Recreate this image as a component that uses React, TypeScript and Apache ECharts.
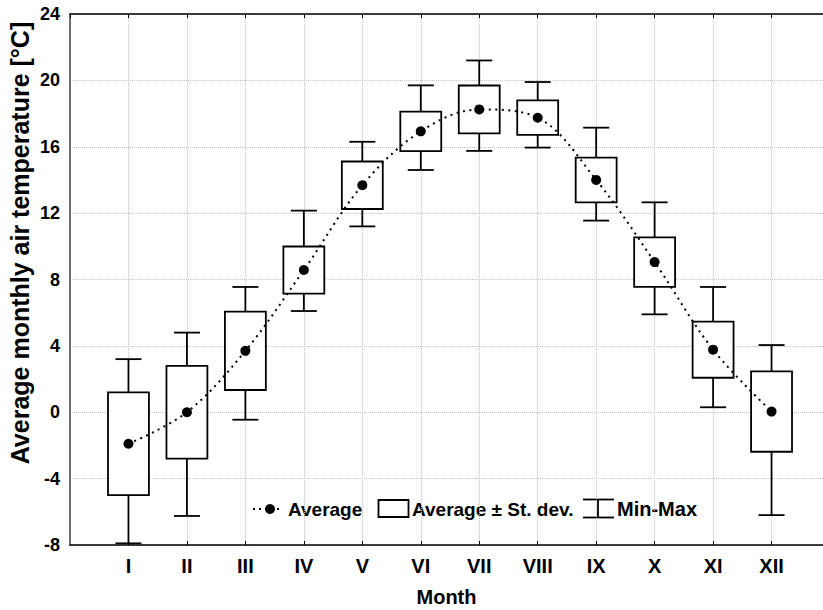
import React, { useEffect, useRef } from "react";
import * as echarts from "echarts";

const months = ["I", "II", "III", "IV", "V", "VI", "VII", "VIII", "IX", "X", "XI", "XII"];
const avgValues = [-1.9, 0.0, 3.7, 8.57, 13.68, 16.93, 18.25, 17.75, 14.0, 9.05, 3.77, 0.04];
const sdValues = [3.1, 2.8, 2.36, 1.42, 1.43, 1.19, 1.44, 1.04, 1.35, 1.49, 1.69, 2.42];
const minValues = [-7.9, -6.25, -0.45, 6.1, 11.2, 14.6, 15.75, 15.95, 11.55, 5.9, 0.3, -6.2];
const maxValues = [3.2, 4.8, 7.55, 12.15, 16.3, 19.7, 21.2, 19.9, 17.15, 12.65, 7.55, 4.05];
const yTicks = [-8, -4, 0, 4, 8, 12, 16, 20, 24];

const FONT = "'Liberation Sans', Arial, sans-serif";

export default function App() {
  const ref = useRef<HTMLDivElement>(null);

  useEffect(() => {
    if (!ref.current) return;
    const chart = echarts.init(ref.current, undefined, { renderer: "svg" });

    const boxData = months.map((_, i) => [
      i + 1,
      minValues[i],
      avgValues[i] - sdValues[i],
      avgValues[i] + sdValues[i],
      maxValues[i],
    ]);
    const meanData = months.map((_, i) => [i + 1, avgValues[i]]);

    const gridLine = { color: "#c4c4c4", type: "dotted" as const, width: 1 };

    const option: any = {
      animation: false,
      backgroundColor: "#ffffff",
      textStyle: { fontFamily: FONT },
      grid: { left: 70, right: 0, top: 14, bottom: 65, containLabel: false, outerBoundsMode: "none" },
      xAxis: [
        {
          type: "value",
          min: 0,
          max: 12.88,
          interval: 1,
          position: "bottom",
          axisLine: { show: true, onZero: false, lineStyle: { color: "#000", width: 1.5 } },
          axisTick: { show: true, inside: true, length: 4, lineStyle: { color: "#000", width: 1 } },
          axisLabel: {
            show: true,
            margin: 11,
            fontFamily: FONT,
            fontWeight: "bold",
            fontSize: 20,
            color: "#000",
            showMinLabel: false,
            formatter: (v: number) => (v >= 1 && v <= 12 ? months[Math.round(v) - 1] : ""),
          },
          splitLine: { show: true, lineStyle: gridLine },
          name: "Month",
          nameLocation: "middle",
          nameGap: 42,
          nameTextStyle: { fontFamily: FONT, fontWeight: "bold", fontSize: 20, color: "#000" },
        },
        {
          type: "value",
          min: 0,
          max: 12.88,
          interval: 1,
          position: "top",
          axisLine: { show: true, onZero: false, lineStyle: { color: "#000", width: 1.5 } },
          axisTick: { show: true, inside: true, length: 4, lineStyle: { color: "#000", width: 1 } },
          axisLabel: { show: false },
          splitLine: { show: false },
        },
      ],
      yAxis: {
        type: "value",
        min: yTicks[0],
        max: yTicks[yTicks.length - 1],
        interval: 4,
        axisLine: { show: true, onZero: false, lineStyle: { color: "#6e6e6e", width: 2 } },
        axisTick: { show: false },
        axisLabel: {
          margin: 10,
          fontFamily: FONT,
          fontWeight: "bold",
          fontSize: 18,
          color: "#000",
        },
        splitLine: { show: true, lineStyle: gridLine },
      },
      series: [
        {
          type: "custom",
          name: "Average ± St. dev.",
          xAxisIndex: 0,
          yAxisIndex: 0,
          data: boxData,
          encode: { x: 0, y: [1, 2, 3, 4] },
          z: 2,
          renderItem: (params: any, api: any) => {
            const x = api.value(0);
            const pLo = api.coord([x, api.value(1)]);
            const pQ1 = api.coord([x, api.value(2)]);
            const pQ3 = api.coord([x, api.value(3)]);
            const pHi = api.coord([x, api.value(4)]);
            const bw = api.size([0.7, 0])[0];
            const cw = api.size([0.445, 0])[0];
            const ls = { stroke: "#000", lineWidth: 1.8 };
            return {
              type: "group",
              children: [
                { type: "line", shape: { x1: pLo[0], y1: pLo[1], x2: pQ1[0], y2: pQ1[1] }, style: ls },
                { type: "line", shape: { x1: pHi[0], y1: pHi[1], x2: pQ3[0], y2: pQ3[1] }, style: ls },
                { type: "line", shape: { x1: pLo[0] - cw / 2, y1: pLo[1], x2: pLo[0] + cw / 2, y2: pLo[1] }, style: ls },
                { type: "line", shape: { x1: pHi[0] - cw / 2, y1: pHi[1], x2: pHi[0] + cw / 2, y2: pHi[1] }, style: ls },
                {
                  type: "rect",
                  shape: { x: pQ3[0] - bw / 2, y: pQ3[1], width: bw, height: pQ1[1] - pQ3[1] },
                  style: { fill: "#fff", stroke: "#000", lineWidth: 1.8 },
                },
              ],
            };
          },
        },
        {
          type: "line",
          name: "Average",
          data: meanData,
          smooth: 0.35,
          symbol: "circle",
          symbolSize: 10,
          z: 5,
          itemStyle: { color: "#000" },
          lineStyle: { color: "#000", width: 2, type: [2, 4.5] },
        },
      ],
      graphic: [
        {
          type: "text",
          x: 20,
          y: 243,
          rotation: Math.PI / 2,
          style: {
            text: "Average monthly air temperature [°C]",
            font: `bold 25px ${FONT}`,
            fill: "#000",
            align: "center",
            verticalAlign: "middle",
          },
        },
        {
          type: "line",
          shape: { x1: 253, y1: 509, x2: 283, y2: 509 },
          style: { stroke: "#000", lineWidth: 2, lineDash: [2, 4] },
        },
        { type: "circle", shape: { cx: 270, cy: 509, r: 5 }, style: { fill: "#000" } },
        {
          type: "text",
          x: 288,
          y: 509,
          style: { text: "Average", font: `bold 19px ${FONT}`, fill: "#000", verticalAlign: "middle" },
        },
        {
          type: "rect",
          shape: { x: 378.5, y: 500, width: 30, height: 17 },
          style: { fill: "#fff", stroke: "#000", lineWidth: 1.8 },
        },
        {
          type: "text",
          x: 412,
          y: 509,
          style: { text: "Average ± St. dev.", font: `bold 19px ${FONT}`, fill: "#000", verticalAlign: "middle" },
        },
        { type: "line", shape: { x1: 598, y1: 499.5, x2: 598, y2: 517.5 }, style: { stroke: "#000", lineWidth: 1.8 } },
        { type: "line", shape: { x1: 583, y1: 499.5, x2: 614, y2: 499.5 }, style: { stroke: "#000", lineWidth: 1.8 } },
        { type: "line", shape: { x1: 583, y1: 517.5, x2: 614, y2: 517.5 }, style: { stroke: "#000", lineWidth: 1.8 } },
        {
          type: "text",
          x: 617,
          y: 509,
          style: { text: "Min-Max", font: `bold 20px ${FONT}`, fill: "#000", verticalAlign: "middle" },
        },
      ],
    };

    chart.setOption(option);
    return () => chart.dispose();
  }, []);

  return (
    <div
      ref={ref}
      style={{ position: "fixed", left: 0, top: 0, width: 823, height: 610, background: "#fff" }}
    />
  );
}
